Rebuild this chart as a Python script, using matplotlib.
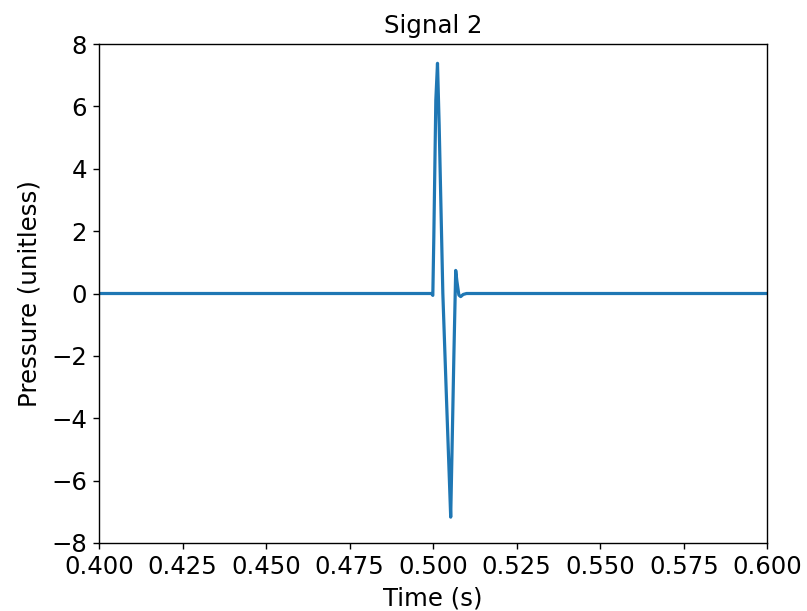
import matplotlib
matplotlib.use("Agg")
import matplotlib.pyplot as plt

# Signal samples (pulse near t = 0.5 s)
time_s = [0.400, 0.4995, 0.4999, 0.5002, 0.5008, 0.5013, 0.5018, 0.5029,
          0.5040, 0.5049, 0.50525, 0.5056, 0.5062, 0.50675, 0.5071, 0.5077,
          0.50824, 0.5090, 0.5100, 0.600]
pressure = [0.0, 0.0, -0.06, 1.8, 6.2, 7.38, 5.4, 0.0,
            -3.4, -6.1, -7.17, -5.3, -2.0, 0.74, 0.4, -0.05,
            -0.1, -0.03, 0.0, 0.0]

# sizes scaled by 1.26 to mimic the original render resolution
plt.rcParams["font.size"] = 17.6
plt.rcParams["axes.linewidth"] = 1.0
plt.rcParams["xtick.major.size"] = 4.4
plt.rcParams["ytick.major.size"] = 4.4
plt.rcParams["xtick.major.width"] = 1.0
plt.rcParams["ytick.major.width"] = 1.0
plt.rcParams["xtick.major.pad"] = 4.4
plt.rcParams["ytick.major.pad"] = 4.4
plt.rcParams["axes.titlesize"] = 17.6
plt.rcParams["axes.titlepad"] = 7.6
plt.rcParams["axes.labelpad"] = 5.0

fig, ax = plt.subplots(figsize=(8.07, 6.11), dpi=100)
fig.subplots_adjust(left=99 / 807, right=767.3 / 807, top=1 - 44 / 611, bottom=1 - 543 / 611)

ax.plot(time_s, pressure, color="#1f77b4", linewidth=2.3)

ax.set_xlim(0.4, 0.6)
ax.set_ylim(-8, 8)
ax.set_xticks([0.4 + 0.025 * i for i in range(9)])
ax.set_xticklabels([f"{0.4 + 0.025 * i:.3f}" for i in range(9)])
ax.set_yticks(range(-8, 9, 2))

ax.set_title("Signal 2")
ax.set_xlabel("Time (s)")
ax.set_ylabel("Pressure (unitless)", labelpad=7)

fig.savefig("out.png", dpi=100)
plt.close(fig)
